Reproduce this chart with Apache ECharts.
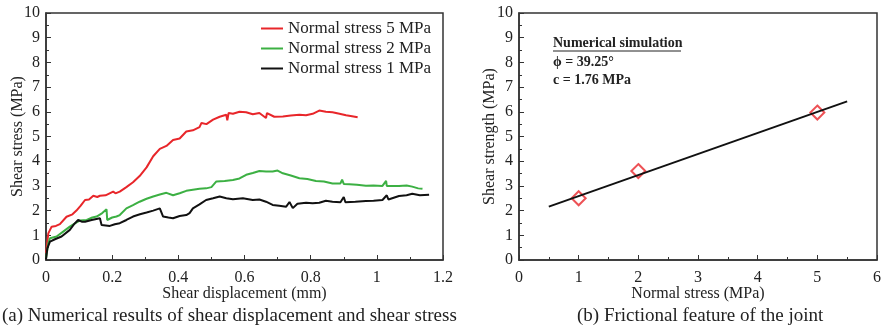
<!DOCTYPE html>
<html>
<head>
<meta charset="utf-8">
<script src="https://cdn.jsdelivr.net/npm/echarts@6/dist/echarts.min.js"></script>
<style>
  html, body { margin: 0; padding: 0; background: #fff; }
  #chart { width: 884px; height: 334px; }
</style>
</head>
<body>
<div id="chart"></div>
<script>
// (a) shear displacement (mm) vs shear stress (MPa)
const stress5 = [
  [0, 0.27], [0.007, 1.08], [0.017, 1.35], [0.03, 1.38], [0.042, 1.45], [0.062, 1.75],
  [0.08, 1.85], [0.092, 2.0], [0.105, 2.2], [0.118, 2.43], [0.13, 2.45], [0.143, 2.6],
  [0.155, 2.55], [0.163, 2.6], [0.18, 2.62], [0.203, 2.77], [0.21, 2.7], [0.223, 2.77],
  [0.243, 2.95], [0.263, 3.15], [0.283, 3.4], [0.304, 3.75], [0.324, 4.2], [0.344, 4.5],
  [0.364, 4.62], [0.384, 4.86], [0.404, 4.92], [0.424, 5.2], [0.444, 5.25], [0.464, 5.38],
  [0.47, 5.55], [0.485, 5.5], [0.505, 5.68], [0.525, 5.8], [0.545, 5.88], [0.548, 5.65],
  [0.552, 5.95], [0.565, 5.92], [0.585, 6.0], [0.605, 5.98], [0.625, 5.9], [0.645, 5.95],
  [0.665, 5.75], [0.668, 5.95], [0.69, 5.8], [0.716, 5.81], [0.74, 5.85], [0.766, 5.88],
  [0.786, 5.86], [0.806, 5.92], [0.826, 6.05], [0.846, 6.0], [0.866, 5.98], [0.887, 5.92],
  [0.907, 5.86], [0.925, 5.82], [0.942, 5.78]
];
const stress2 = [
  [0, 0.07], [0.007, 0.68], [0.012, 0.88], [0.032, 0.95], [0.052, 1.15], [0.072, 1.35],
  [0.09, 1.5], [0.103, 1.6], [0.123, 1.62], [0.14, 1.72], [0.153, 1.76], [0.17, 1.9],
  [0.183, 2.05], [0.185, 1.62], [0.2, 1.72], [0.213, 1.76], [0.223, 1.82], [0.243, 2.09],
  [0.263, 2.22], [0.283, 2.36], [0.304, 2.48], [0.324, 2.57], [0.344, 2.65], [0.364, 2.72],
  [0.384, 2.62], [0.404, 2.7], [0.424, 2.8], [0.444, 2.84], [0.464, 2.88], [0.484, 2.9],
  [0.5, 2.95], [0.515, 3.18], [0.54, 3.2], [0.565, 3.24], [0.585, 3.3], [0.605, 3.45],
  [0.625, 3.52], [0.645, 3.6], [0.665, 3.58], [0.685, 3.58], [0.7, 3.62], [0.716, 3.51],
  [0.74, 3.42], [0.766, 3.31], [0.79, 3.28], [0.816, 3.2], [0.84, 3.18], [0.866, 3.1],
  [0.89, 3.1], [0.895, 3.25], [0.9, 3.08], [0.917, 3.07], [0.94, 3.05], [0.967, 3.01],
  [0.99, 3.02], [1.017, 3.0], [1.028, 3.2], [1.03, 3.0], [1.067, 3.0], [1.09, 3.02],
  [1.107, 2.97], [1.125, 2.9], [1.138, 2.88]
];
const stress1 = [
  [0, 0.03], [0.004, 0.47], [0.012, 0.74], [0.027, 0.84], [0.047, 0.95], [0.072, 1.22],
  [0.085, 1.45], [0.097, 1.62], [0.108, 1.55], [0.118, 1.55], [0.138, 1.62], [0.163, 1.69],
  [0.168, 1.42], [0.193, 1.38], [0.208, 1.45], [0.223, 1.49], [0.243, 1.62], [0.263, 1.76],
  [0.284, 1.85], [0.304, 1.92], [0.324, 2.0], [0.344, 2.09], [0.354, 1.76], [0.37, 1.72],
  [0.384, 1.69], [0.404, 1.78], [0.424, 1.82], [0.434, 1.9], [0.444, 2.09], [0.464, 2.25],
  [0.484, 2.43], [0.505, 2.5], [0.525, 2.57], [0.545, 2.5], [0.565, 2.46], [0.595, 2.5],
  [0.625, 2.43], [0.645, 2.45], [0.665, 2.36], [0.685, 2.23], [0.705, 2.2], [0.726, 2.16],
  [0.736, 2.35], [0.746, 2.1], [0.76, 2.28], [0.786, 2.32], [0.806, 2.3], [0.826, 2.32],
  [0.846, 2.4], [0.866, 2.36], [0.89, 2.34], [0.9, 2.55], [0.905, 2.34], [0.935, 2.36],
  [0.967, 2.39], [0.99, 2.4], [1.017, 2.43], [1.03, 2.62], [1.035, 2.45], [1.067, 2.59],
  [1.09, 2.62], [1.107, 2.68], [1.13, 2.62], [1.158, 2.64]
];
const legendNames = ['Normal stress 5 MPa', 'Normal stress 2 MPa', 'Normal stress 1 MPa'];

// (b) normal stress vs shear strength
const strengthPoints = [[1, 2.5], [2, 3.6], [5, 5.97]];
const fitLine = [[0.5, 2.16], [5.5, 6.42]];

const serif = '"Liberation Serif", "Times New Roman", serif';
const axisColor = '#333';

function valueAxis(gridIndex, min, max, interval, name, nameGap, rotate, labelMargin) {
  return {
    type: 'value', gridIndex, min, max, interval, name,
    nameLocation: 'middle', nameGap, nameRotate: rotate, nameMoveOverlap: false,
    nameTextStyle: { fontFamily: serif, fontSize: 16, color: '#222' },
    axisLine: { show: true, lineStyle: { color: axisColor, width: 1.5 } },
    axisTick: { show: true, inside: true, length: 5, lineStyle: { color: axisColor } },
    minorTick: { show: true, splitNumber: 2, length: 3, lineStyle: { color: axisColor } },
    axisLabel: { fontFamily: serif, fontSize: 16, color: '#222', margin: labelMargin },
    splitLine: { show: false }
  };
}

const chart = echarts.init(document.getElementById('chart'));
chart.setOption({
  animation: false,
  backgroundColor: '#fff',
  grid: [
    { left: 46, top: 13, width: 397, height: 247, show: true, borderColor: axisColor, borderWidth: 1.5 },
    { left: 519, top: 13, width: 362, height: 247, show: true, borderColor: axisColor, borderWidth: 1.5 }
  ],
  xAxis: [
    valueAxis(0, 0, 1.2, 0.2, 'Shear displacement (mm)', 26, 0, 10),
    valueAxis(1, 0, 6, 1, 'Normal stress (MPa)', 26, 0, 10)
  ],
  yAxis: [
    valueAxis(0, 0, 10, 1, 'Shear stress (MPa)', 20, 90, 6),
    valueAxis(1, 0, 10, 1, 'Shear strength (MPa)', 21, 90, 6)
  ],
  legend: {
    left: 256, top: 15, orient: 'vertical', itemGap: 3, itemWidth: 22, itemHeight: 2,
    icon: 'rect',
    textStyle: { fontFamily: serif, fontSize: 17, color: '#222' },
    data: legendNames
  },
  graphic: [
    { type: 'text', left: 553, top: 36, style: { text: 'Numerical simulation', font: 'bold 14px "Liberation Serif"', fill: '#222' } },
    { type: 'line', shape: { x1: 553, y1: 51, x2: 681, y2: 51 }, style: { stroke: '#222', lineWidth: 1 } },
    { type: 'text', left: 553, top: 55, style: { text: 'ϕ = 39.25°', font: 'bold 14px "Liberation Serif"', fill: '#222' } },
    { type: 'text', left: 553, top: 73, style: { text: 'c = 1.76 MPa', font: 'bold 14px "Liberation Serif"', fill: '#222' } },
    { type: 'text', left: 2, top: 307, style: { text: '(a) Numerical results of shear displacement and shear stress', font: '19px "Liberation Serif"', fill: '#222' } },
    { type: 'text', left: 577, top: 307, style: { text: '(b) Frictional feature of the joint', font: '19px "Liberation Serif"', fill: '#222' } }
  ],
  series: [
    { name: legendNames[0], type: 'line', xAxisIndex: 0, yAxisIndex: 0, data: stress5, symbol: 'none',
      lineStyle: { color: '#e8262a', width: 2 }, itemStyle: { color: '#e8262a' } },
    { name: legendNames[1], type: 'line', xAxisIndex: 0, yAxisIndex: 0, data: stress2, symbol: 'none',
      lineStyle: { color: '#3cb043', width: 2 }, itemStyle: { color: '#3cb043' } },
    { name: legendNames[2], type: 'line', xAxisIndex: 0, yAxisIndex: 0, data: stress1, symbol: 'none',
      lineStyle: { color: '#111', width: 2 }, itemStyle: { color: '#111' } },
    { type: 'line', xAxisIndex: 1, yAxisIndex: 1, data: fitLine, symbol: 'none',
      lineStyle: { color: '#111', width: 2 } },
    { type: 'scatter', xAxisIndex: 1, yAxisIndex: 1, data: strengthPoints, symbol: 'diamond', symbolSize: 14,
      itemStyle: { color: 'rgba(0,0,0,0)', borderColor: '#e8262a', borderWidth: 2 } }
  ]
});
</script>
</body>
</html>
